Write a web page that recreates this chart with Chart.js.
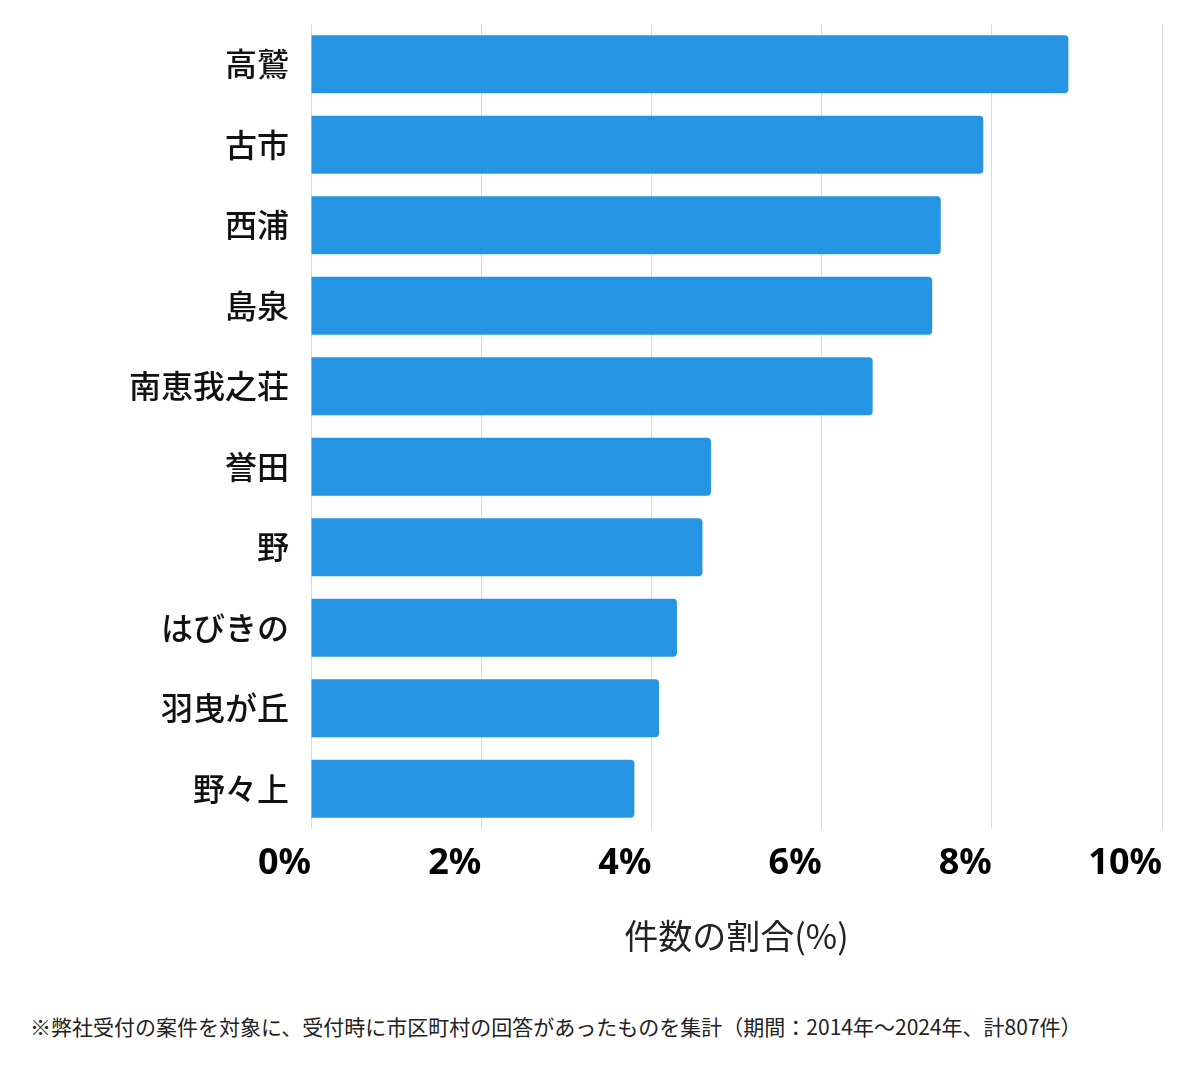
<!DOCTYPE html>
<html lang="ja">
<head>
<meta charset="utf-8">
<script src="https://cdn.jsdelivr.net/npm/chart.js@4"></script>
<style>
    body { margin: 0; background: #fff; font-family: "Noto Sans CJK JP", "Noto Sans", sans-serif; }
    #wrap { position: relative; width: 1200px; height: 980px; }
    .note { position: absolute; left: 30px; top: 1016px; font-size: 21px; line-height: 21px; color: #222; white-space: nowrap; }
</style>
</head>
<body>
<div id="wrap"><canvas id="areaChart"></canvas></div>
<div class="note">※弊社受付の案件を対象に、受付時に市区町村の回答があったものを集計（期間：2014年〜2024年、計807件）</div>
<script>
const areas = ['高鷲', '古市', '西浦', '島泉', '南恵我之荘', '誉田', '野', 'はびきの', '羽曳が丘', '野々上'];
const shares = [8.90, 7.90, 7.40, 7.30, 6.60, 4.70, 4.60, 4.30, 4.09, 3.80];
const tickValues = [0, 2, 4, 6, 8, 10];

const tickFont = '"Noto Sans", "Noto Sans CJK JP", sans-serif';
const jpFont = '"Noto Sans CJK JP", "Noto Sans", sans-serif';

const ctx = document.getElementById('areaChart').getContext('2d');
new Chart(ctx, {
    type: 'bar',
    data: {
        labels: areas,
        datasets: [{
            data: shares,
            backgroundColor: '#2594e3',
            borderRadius: 4,
            borderSkipped: 'start'
        }]
    },
    options: {
        indexAxis: 'y',
        responsive: true,
        maintainAspectRatio: false,
        animation: false,
        layout: {
            padding: { top: 24, right: 38, bottom: 24, left: 0 }
        },
        plugins: {
            legend: { display: false },
            tooltip: { enabled: false }
        },
        scales: {
            x: {
                min: 0,
                max: 10,
                afterBuildTicks: scale => {
                    scale.ticks = tickValues.map(v => ({ value: v }));
                },
                grid: { color: '#d9d9d9', lineWidth: 1, drawTicks: false },
                border: { display: false },
                ticks: {
                    align: 'end',
                    padding: 13,
                    color: '#000',
                    font: { family: tickFont, size: 36, weight: 'bold' },
                    callback: value => value + '%'
                },
                title: {
                    display: true,
                    text: '件数の割合(%)',
                    color: '#222',
                    padding: { top: 17, bottom: 0 },
                    font: { family: jpFont, size: 34 }
                }
            },
            y: {
                afterFit: scale => {
                    scale.width = 311;
                    scale.paddingTop = 0;
                    scale.paddingBottom = 0;
                },
                grid: { display: false },
                border: { display: false },
                ticks: {
                    padding: 14,
                    color: '#111',
                    font: { family: jpFont, size: 32, weight: 500 }
                }
            }
        }
    }
});
</script>
</body>
</html>
